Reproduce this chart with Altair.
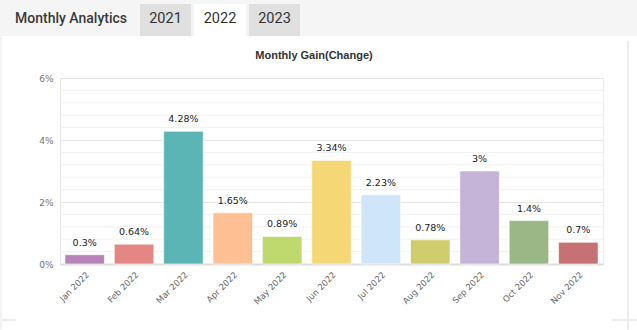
import altair as alt
import pandas as pd

months = ["Jan 2022", "Feb 2022", "Mar 2022", "Apr 2022", "May 2022", "Jun 2022",
          "Jul 2022", "Aug 2022", "Sep 2022", "Oct 2022", "Nov 2022"]
gains = [0.3, 0.64, 4.28, 1.65, 0.89, 3.34, 2.23, 0.78, 3.0, 1.4, 0.7]
colors = ["#b784b7", "#e48784", "#5bb5b4", "#febf93", "#bfd96f", "#f5d776",
          "#cfe5f9", "#d0cd6e", "#c5b4d7", "#9cb786", "#c87174"]
y_ticks = [0, 2, 4, 6]
minor_ticks = [0.4, 0.8, 1.2, 1.6, 2.4, 2.8, 3.2, 3.6, 4.4, 4.8, 5.2, 5.6]
tabs = ["2021", "2022", "2023"]

df = pd.DataFrame({"month": months, "gain": gains})
one = pd.DataFrame({"k": [0]})
minor_df = pd.DataFrame({"v": minor_ticks})

W, H = 543, 186
PL, PT = 60, 78

yscale = alt.Scale(domain=[0, 6], nice=False)

def deco_rect(x, x2, y, y2, color):
    return alt.Chart(one).mark_rect(color=color).encode(
        x=alt.value(x - PL), x2=alt.value(x2 - PL),
        y=alt.value(y - PT), y2=alt.value(y2 - PT))

def deco_text(x, y, txt, size, color, font, weight="normal", align="left"):
    return alt.Chart(one).mark_text(
        text=txt, fontSize=size, color=color, font=font, fontWeight=weight,
        align=align, baseline="middle").encode(
        x=alt.value(x - PL), y=alt.value(y - PT))

layers = []
# header strip and tabs
layers.append(deco_rect(0, 637, 0, 36, "#f5f5f5"))
layers.append(deco_rect(140, 191, 4, 36, "#e0e0e0"))
layers.append(deco_rect(194, 246, 4, 36, "#ffffff"))
layers.append(deco_rect(249, 300, 4, 36, "#e0e0e0"))
layers.append(deco_text(15, 19, "Monthly Analytics", 14, "#3a3a3a", "Roboto", 500))
for cx, t in zip([165.5, 220, 274.5], tabs):
    layers.append(deco_text(cx, 19, t, 14.5, "#333333", "Roboto", "normal", "center"))
# card frame lines
layers.append(deco_rect(627, 629, 41, 330, "#ececec"))
layers.append(deco_rect(612, 637, 319, 321, "#ececec"))
layers.append(deco_rect(0, 16, 319, 321, "#ececec"))
layers.append(deco_rect(0, 2, 36, 330, "#f4f4f4"))
# title
layers.append(deco_text(314, 56, "Monthly Gain(Change)", 11, "#333333",
                        "Liberation Sans", "bold", "center"))

minor = alt.Chart(minor_df).mark_rule(color="#f2f2f2", strokeWidth=1).encode(
    y=alt.Y("v:Q", scale=yscale))

xenc = alt.X("month:N", sort=months,
             scale=alt.Scale(paddingInner=0.2, paddingOuter=0.1),
             axis=alt.Axis(title=None, labelAngle=-45, labelFontSize=8.5,
                           labelColor="#666666", labelFont="DejaVu Sans",
                           ticks=False, domainColor="#dddddd", domainWidth=2,
                           labelPadding=6, grid=False))

bars = alt.Chart(df).mark_bar(stroke="#ffffff", strokeWidth=1, strokeOpacity=0.6).encode(
    x=xenc,
    y=alt.Y("gain:Q", scale=yscale,
            axis=alt.Axis(title=None, values=y_ticks, labelExpr="datum.value + '%'",
                          labelFontSize=9, labelColor="#777777", labelFont="DejaVu Sans",
                          ticks=False, labelPadding=7, domainColor="#e6e6e6",
                          gridColor="#e6e6e6", grid=True)),
    color=alt.Color("month:N", sort=months, scale=alt.Scale(domain=months, range=colors),
                    legend=None))

labels = alt.Chart(df).transform_calculate(lab="datum.gain + '%'").mark_text(
    fontSize=9.5, color="#222222", font="DejaVu Sans", dy=-12, baseline="middle").encode(
    x=alt.X("month:N", sort=months), y=alt.Y("gain:Q", scale=yscale), text="lab:N")

chart = alt.layer(*layers, minor, bars, labels).properties(
    width=W, height=H,
    autosize=alt.AutoSizeParams(type="none"),
    padding={"left": PL, "top": PT, "right": 637 - PL - W, "bottom": 330 - PT - H},
    background="#ffffff",
).configure_view(stroke="#ececec", strokeWidth=1)

chart.save("out.html", embed_options={"renderer": "svg", "actions": False})
